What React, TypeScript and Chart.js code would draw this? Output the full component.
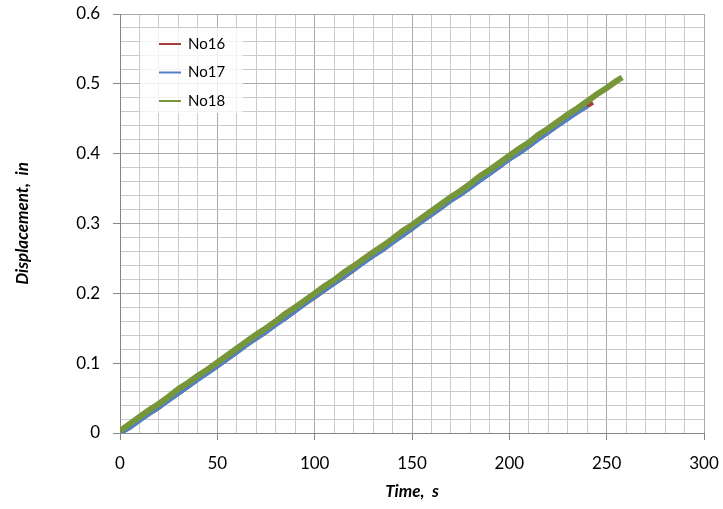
import React, { useEffect, useRef } from "react";
import { Chart, registerables } from "chart.js";

Chart.register(...registerables);

// Test time (s) and measured displacement (in) for the three specimens
const timeNo16 = [0, 5, 10, 15, 20, 25, 30, 35, 40, 45, 50, 55, 60, 65, 70, 75, 80, 85, 90, 95, 100, 105, 110, 115, 120, 125, 130, 135, 140, 145, 150, 155, 160, 165, 170, 175, 180, 185, 190, 195, 200, 205, 210, 215, 220, 225, 230, 235, 240, 243];
const dispNo16 = [0.000, 0.007, 0.018, 0.027, 0.036, 0.047, 0.056, 0.066, 0.076, 0.086, 0.095, 0.105, 0.115, 0.126, 0.135, 0.144, 0.155, 0.164, 0.174, 0.185, 0.194, 0.204, 0.214, 0.223, 0.233, 0.244, 0.253, 0.262, 0.273, 0.282, 0.292, 0.303, 0.312, 0.322, 0.333, 0.341, 0.351, 0.362, 0.371, 0.381, 0.392, 0.400, 0.410, 0.421, 0.430, 0.440, 0.450, 0.459, 0.468, 0.473];

const timeNo17 = [0, 5, 10, 15, 20, 25, 30, 35, 40, 45, 50, 55, 60, 65, 70, 75, 80, 85, 90, 95, 100, 105, 110, 115, 120, 125, 130, 135, 140, 145, 150, 155, 160, 165, 170, 175, 180, 185, 190, 195, 200, 205, 210, 215, 220, 225, 230, 235, 240];
const dispNo17 = [0.000, 0.008, 0.018, 0.028, 0.037, 0.047, 0.057, 0.067, 0.077, 0.086, 0.096, 0.106, 0.116, 0.126, 0.136, 0.145, 0.155, 0.165, 0.175, 0.185, 0.195, 0.205, 0.214, 0.224, 0.234, 0.244, 0.254, 0.263, 0.273, 0.283, 0.293, 0.303, 0.313, 0.323, 0.333, 0.342, 0.352, 0.362, 0.372, 0.382, 0.392, 0.401, 0.411, 0.421, 0.431, 0.441, 0.450, 0.460, 0.468];

const timeNo18 = [0, 5, 10, 15, 20, 25, 30, 35, 40, 45, 50, 55, 60, 65, 70, 75, 80, 85, 90, 95, 100, 105, 110, 115, 120, 125, 130, 135, 140, 145, 150, 155, 160, 165, 170, 175, 180, 185, 190, 195, 200, 205, 210, 215, 220, 225, 230, 235, 240, 245, 250, 255, 258];
const dispNo18 = [0.003, 0.013, 0.023, 0.033, 0.042, 0.052, 0.063, 0.072, 0.082, 0.091, 0.101, 0.111, 0.121, 0.131, 0.141, 0.150, 0.160, 0.171, 0.180, 0.190, 0.200, 0.210, 0.219, 0.230, 0.239, 0.249, 0.259, 0.268, 0.278, 0.289, 0.298, 0.308, 0.318, 0.328, 0.338, 0.347, 0.357, 0.368, 0.377, 0.387, 0.397, 0.407, 0.416, 0.427, 0.436, 0.446, 0.456, 0.465, 0.475, 0.485, 0.494, 0.504, 0.509];

const seriesNames = ["No16", "No17", "No18"];
const seriesColors = ["#A3403B", "#4F81C7", "#77963A"];

const xTicks = [0, 50, 100, 150, 200, 250, 300];
const yTicks = ["0", "0.1", "0.2", "0.3", "0.4", "0.5", "0.6"];

const FONT = "Lato, 'Open Sans', sans-serif";

const isMajorX = (v: number) => xTicks.includes(Math.round(v));
const isMajorY = (v: number) => Math.abs(v * 10 - Math.round(v * 10)) < 1e-6;

// Boxed legend drawn in the upper-left corner of the plot
const boxLegend = {
  id: "boxLegend",
  afterDatasetsDraw(chart: any) {
    const { ctx, chartArea } = chart;
    const left = chartArea.left + 20;
    const top = chartArea.top + 14;
    const w = 103;
    const h = 85;
    ctx.save();
    ctx.fillStyle = "rgba(255,255,255,0.78)";
    ctx.fillRect(left, top, w, h);
    ctx.font = `15px ${FONT}`;
    ctx.textBaseline = "middle";
    ctx.textAlign = "left";
    seriesNames.forEach((name, i) => {
      const y = top + 16 + i * 28.5;
      ctx.strokeStyle = seriesColors[i];
      ctx.lineWidth = 2;
      ctx.beginPath();
      ctx.moveTo(left + 19, y);
      ctx.lineTo(left + 41, y);
      ctx.stroke();
      ctx.fillStyle = "#000";
      ctx.fillText(name, left + 48, y);
    });
    ctx.restore();
  },
};

export default function App() {
  const canvasRef = useRef<HTMLCanvasElement | null>(null);

  useEffect(() => {
    if (!canvasRef.current) return;
    const toPoints = (t: number[], d: number[]) => t.map((x, i) => ({ x, y: d[i] }));
    // Later series are painted over earlier ones (lower order = on top)
    const chart = new Chart(canvasRef.current, {
      type: "line",
      data: {
        datasets: [
          { label: seriesNames[0], data: toPoints(timeNo16, dispNo16), borderColor: seriesColors[0], borderWidth: 4, order: 2 },
          { label: seriesNames[1], data: toPoints(timeNo17, dispNo17), borderColor: seriesColors[1], borderWidth: 5, order: 1 },
          { label: seriesNames[2], data: toPoints(timeNo18, dispNo18), borderColor: seriesColors[2], borderWidth: 6, order: 0 },
        ],
      },
      options: {
        responsive: false,
        animation: false,
        parsing: false as any,
        elements: { point: { radius: 0 }, line: { tension: 0 } },
        layout: { padding: { left: 0, top: 14, right: 19, bottom: 0 } },
        plugins: { legend: { display: false }, tooltip: { enabled: false } },
        scales: {
          x: {
            type: "linear",
            min: 0,
            max: 300,
            afterFit: (s: any) => {
              s.height = 76;
              s.paddingLeft = 0;
              s.paddingRight = 0;
            },
            ticks: {
              stepSize: 10,
              autoSkip: false,
              maxRotation: 0,
              padding: 13,
              color: "#000",
              font: { family: FONT, size: 17 },
              callback: (v: any) => (isMajorX(v) ? String(Math.round(v)) : ""),
            },
            grid: {
              color: (c: any) => (isMajorX(c.tick.value) ? "#a9a9a9" : "#cacaca"),
              tickColor: (c: any) => (isMajorX(c.tick.value) ? "#868686" : "rgba(0,0,0,0)"),
              tickLength: 7,
            },
            border: { color: "#868686" },
            title: {
              display: true,
              text: "Time,  s",
              color: "#000",
              font: { family: FONT, size: 17, weight: "bold", style: "italic" },
              padding: { top: 0, bottom: 7 },
            },
          },
          y: {
            type: "linear",
            min: 0,
            max: 0.6,
            afterFit: (s: any) => {
              s.width = 120;
              s.paddingTop = 0;
              s.paddingBottom = 0;
            },
            ticks: {
              stepSize: 0.02,
              autoSkip: false,
              padding: 13,
              color: "#000",
              font: { family: FONT, size: 17 },
              callback: (v: any) => (isMajorY(v) ? yTicks[Math.round(v * 10)] : ""),
            },
            grid: {
              color: (c: any) => (isMajorY(c.tick.value) ? "#a9a9a9" : "#cacaca"),
              tickColor: (c: any) => (isMajorY(c.tick.value) ? "#868686" : "rgba(0,0,0,0)"),
              tickLength: 7,
            },
            border: { color: "#868686" },
            title: {
              display: true,
              text: "Displacement,  in",
              color: "#000",
              font: { family: FONT, size: 17, weight: "bold", style: "italic" },
              padding: { top: 12, bottom: 0 },
            },
          },
        },
      },
      plugins: [boxLegend],
    });
    return () => chart.destroy();
  }, []);

  return (
    <div style={{ position: "fixed", left: 0, top: 0, width: 723, height: 509, background: "#fff" }}>
      <canvas ref={canvasRef} width={723} height={509} />
    </div>
  );
}
